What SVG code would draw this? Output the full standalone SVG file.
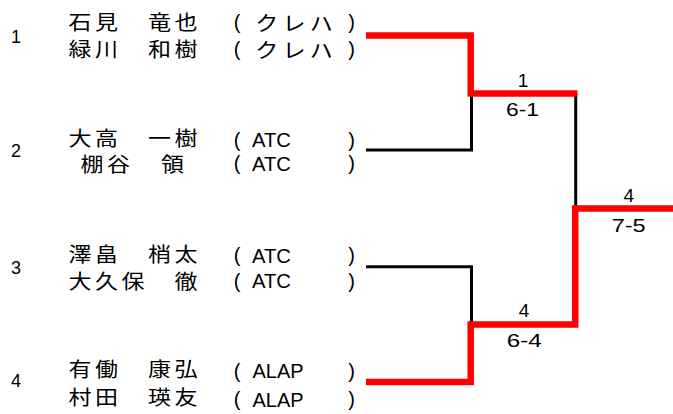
<svg xmlns="http://www.w3.org/2000/svg" width="673" height="414" viewBox="0 0 673 414">
<style>
.cjk{font-family:"Noto Sans CJK JP","Noto Sans CJK SC",sans-serif;font-size:20px;text-anchor:middle;fill:#000}
.lat{font-family:"Liberation Sans",Arial,sans-serif;font-size:21px;fill:#000}
.par{font-family:"Liberation Sans",Arial,sans-serif;font-size:20px;text-anchor:middle;fill:#000}
.num{font-family:"Liberation Sans",Arial,sans-serif;font-size:18px;fill:#000}
.score{font-family:"Liberation Sans",Arial,sans-serif;font-size:19px;fill:#000}
.mid{text-anchor:middle}
.red{fill:none;stroke:#ff0000;stroke-width:6.5;stroke-linejoin:miter}
.blk{fill:none;stroke:#000;stroke-width:3;stroke-linejoin:miter}
</style>
<rect width="673" height="414" fill="#fff"/>
<g id="connectors">
  <path class="blk" d="M366 150H471.5V93.5"/>
  <path class="blk" d="M575.7 93.5V208.5"/>
  <path class="blk" d="M366 266.7H471.5V324.5"/>
  <path class="red" d="M366 35.5H470.7V93.5H577.5"/>
  <path class="red" d="M366 382H470.7V324.5H575.2V208.5H673"/>
</g>
<g id="entry1">
  <text class="num" x="11" y="43">1</text>
  <text class="cjk" transform="scale(1.15 1)"><tspan x="69.57 92.61 115.65 138.7 161.74" y="30">石見　竜也</tspan><tspan x="69.57 92.61 115.65 138.7 161.74" y="57.5">緑川　和樹</tspan></text>
  <text class="cjk" transform="scale(1.15 1)"><tspan x="231.91 255.65 279.39" y="31">クレハ</tspan><tspan x="231.91 255.65 279.39" y="58.5">クレハ</tspan></text>
  <text class="par" x="237" y="28.5">(</text>
  <text class="par" x="351.7" y="28.5">)</text>
  <text class="par" x="237" y="56">(</text>
  <text class="par" x="351.7" y="56">)</text>
</g>
<g id="entry2">
  <text class="num" x="11" y="157">2</text>
  <text class="cjk" transform="scale(1.15 1)"><tspan x="69.57 92.61 115.65 138.7 161.74" y="146">大高　一樹</tspan><tspan x="80 103.04 126.3 150" y="172.5">棚谷　領</tspan></text>
  <text class="par" x="237" y="146.5">(</text>
  <text class="lat" x="252" y="147.3" textLength="39" lengthAdjust="spacingAndGlyphs">ATC</text>
  <text class="par" x="351.7" y="146.5">)</text>
  <text class="par" x="237" y="170">(</text>
  <text class="lat" x="252" y="170.5" textLength="39" lengthAdjust="spacingAndGlyphs">ATC</text>
  <text class="par" x="351.7" y="170">)</text>
</g>
<g id="entry3">
  <text class="num" x="11" y="273.5">3</text>
  <text class="cjk" transform="scale(1.15 1)"><tspan x="69.57 92.61 115.65 138.7 161.74" y="262">澤畠　梢太</tspan><tspan x="69.57 92.61 115.65 138.7 161.74" y="289">大久保　徹</tspan></text>
  <text class="par" x="237" y="262">(</text>
  <text class="lat" x="252" y="263" textLength="39" lengthAdjust="spacingAndGlyphs">ATC</text>
  <text class="par" x="351.7" y="262">)</text>
  <text class="par" x="237" y="287.5">(</text>
  <text class="lat" x="252" y="288" textLength="39" lengthAdjust="spacingAndGlyphs">ATC</text>
  <text class="par" x="351.7" y="287.5">)</text>
</g>
<g id="entry4">
  <text class="num" x="11" y="387">4</text>
  <text class="cjk" transform="scale(1.15 1)"><tspan x="69.57 92.61 115.65 138.7 161.74" y="377">有働　康弘</tspan><tspan x="69.57 92.61 115.65 138.7 161.74" y="405">村田　瑛友</tspan></text>
  <text class="par" x="237" y="378">(</text>
  <text class="lat" x="252.5" y="378.3" textLength="51" lengthAdjust="spacingAndGlyphs">ALAP</text>
  <text class="par" x="351.7" y="378">)</text>
  <text class="par" x="237" y="406">(</text>
  <text class="lat" x="252.5" y="406.5" textLength="51" lengthAdjust="spacingAndGlyphs">ALAP</text>
  <text class="par" x="351.7" y="406">)</text>
</g>
<g id="match1">
  <text class="score mid" x="523" y="86.7">1</text>
  <text class="score" x="506" y="116" textLength="33" lengthAdjust="spacingAndGlyphs">6-1</text>
</g>
<g id="match2">
  <text class="score mid" x="524" y="316.7">4</text>
  <text class="score" x="506.7" y="347" textLength="35" lengthAdjust="spacingAndGlyphs">6-4</text>
</g>
<g id="final">
  <text class="score mid" x="628.7" y="201.7">4</text>
  <text class="score" x="611.7" y="231.7" textLength="34" lengthAdjust="spacingAndGlyphs">7-5</text>
</g>
</svg>
